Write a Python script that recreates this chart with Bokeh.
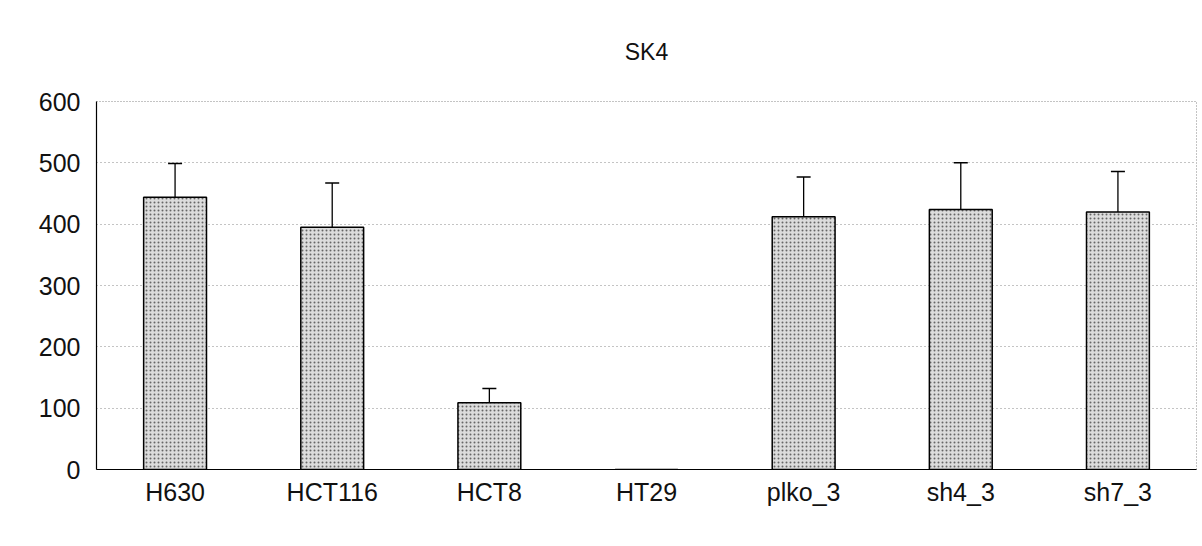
from bokeh.plotting import figure
from bokeh.models import ColumnDataSource, Whisker, TeeHead, FixedTicker
from bokeh.embed import file_html
from bokeh.resources import INLINE

categories = ["H630", "HCT116", "HCT8", "HT29", "plko_3", "sh4_3", "sh7_3"]
means = [444, 395, 109, 0, 412, 424, 420]
errors = [55, 72, 23, 0, 65, 76, 66]
y_ticks = [0, 100, 200, 300, 400, 500, 600]

FONT = "Liberation Sans"

p = figure(x_range=categories, y_range=(0, 600), width=1198, height=509,
           output_backend="svg", toolbar_location=None,
           title="SK4", min_border_left=96, min_border_right=2,
           min_border_top=50, min_border_bottom=40)

p.title.align = "center"
p.title.text_font = FONT
p.title.text_font_size = "23px"
p.title.text_font_style = "normal"
p.title.text_color = "#111111"
p.title.offset = 0
p.title.standoff = 73

src = ColumnDataSource(dict(cat=categories, mean=means))
p.vbar(x="cat", top="mean", width=0.4, source=src,
       fill_color="#dcdcdc", hatch_pattern="dot", hatch_color="#333333",
       hatch_scale=4, hatch_weight=1, hatch_alpha=0.7,
       line_color="black", line_width=1.5)

wc = [c for c, m in zip(categories, means) if m > 0]
wl = [m for m, e in zip(means, errors) if m > 0]
wu = [m + e for m, e in zip(means, errors) if m > 0]
wsrc = ColumnDataSource(dict(cat=wc, lower=wl, upper=wu))
w = Whisker(base="cat", lower="lower", upper="upper", source=wsrc,
            line_color="black", line_width=1.3,
            upper_head=TeeHead(size=14, line_color="black", line_width=1.5),
            lower_head=None)
p.add_layout(w)

p.yaxis.ticker = FixedTicker(ticks=y_ticks)
for ax in (p.xaxis, p.yaxis):
    ax.major_tick_line_color = None
    ax.minor_tick_line_color = None
    ax.axis_line_color = "black"
    ax.axis_line_width = 1.2
    ax.major_label_text_font = FONT
    ax.major_label_text_font_size = "25px"
    ax.major_label_text_color = "#111111"
p.yaxis.major_label_standoff = 10
p.xaxis.major_label_standoff = 2

p.xgrid.grid_line_color = None
p.ygrid.grid_line_color = "#888888"
p.ygrid.grid_line_dash = "1 3"
p.ygrid.grid_line_width = 1
p.outline_line_color = "#888888"
p.outline_line_dash = "1 2"
p.outline_line_width = 1

open("out.html", "w").write(file_html(p, INLINE))
